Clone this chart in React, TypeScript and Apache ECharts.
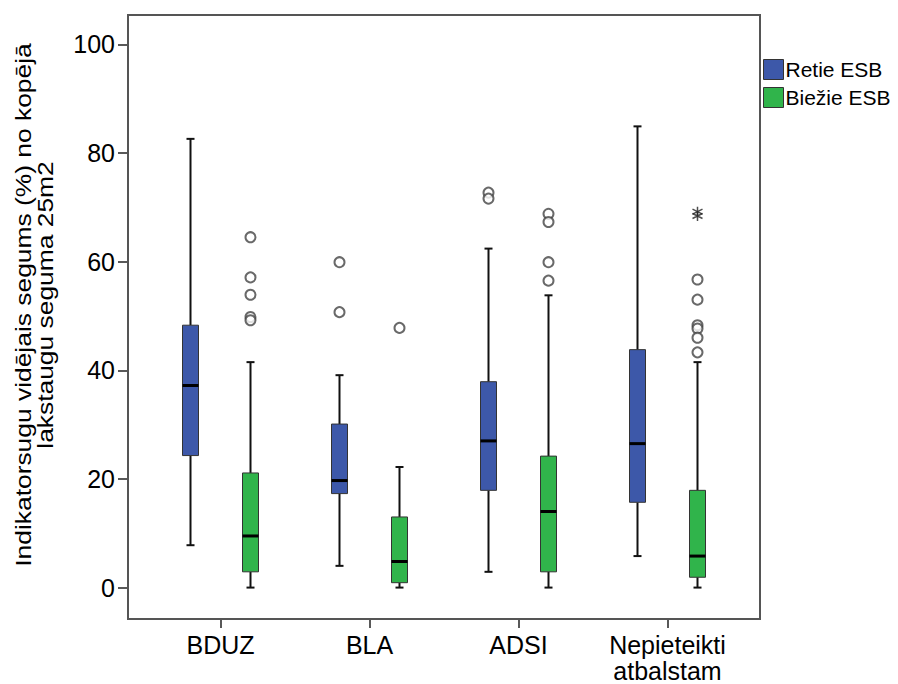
import React, { useEffect, useRef } from "react";
import * as echarts from "echarts";

// ---- data ----
const categories = ["BDUZ", "BLA", "ADSI", "Nepieteikti\natbalstam"];
const seriesNames = ["Retie ESB", "Biežie ESB"];
// [min, q1, median, q3, max]
const retieStats = [
  [7.8, 24.3, 37.2, 48.3, 82.6],
  [4.0, 17.3, 19.7, 30.1, 39.1],
  [2.9, 17.9, 27.0, 37.9, 62.4],
  [5.8, 15.7, 26.5, 43.8, 84.9],
];
const biezieStats = [
  [0, 2.9, 9.5, 21.1, 41.5],
  [0, 0.9, 4.8, 13.0, 22.2],
  [0, 2.9, 14.0, 24.2, 53.8],
  [0, 1.9, 5.8, 17.9, 41.5],
];
const retieOutliers = [
  [1, 59.9], [1, 50.7],
  [2, 72.7], [2, 71.6],
];
const biezieOutliers = [
  [0, 64.5], [0, 57.1], [0, 53.9], [0, 49.8], [0, 49.2],
  [1, 47.8],
  [2, 68.8], [2, 67.3], [2, 59.9], [2, 56.5],
  [3, 56.7], [3, 53.0], [3, 48.3], [3, 47.7], [3, 46.0], [3, 43.3],
];
const biezieExtremes = [
  [3, 69.2], [3, 68.4],
];
const yTicks = [0, 20, 40, 60, 80, 100];
const yMin = -5.6;
const yMax = 105.4;
const yTitle = "Indikatorsugu vidējais segums (%) no kopējā\nlakstaugu seguma 25m2";

// ---- layout / style ----
const W = 898;
const H = 684;
const FRAME_L = 128;
const FRAME_R = 760;
const FRAME_T = 15;
const FRAME_B = 619;
const PAD = 18;
const BOX_OFFSET = 30;
const BOX_W = 16;
const CAP_W = 8;
const BLUE = "#3d58a9";
const GREEN = "#30b44b";
const FONT = "'Liberation Sans', Arial, sans-serif";

function boxRender(offset: number, color: string) {
  return (params: any, api: any) => {
    const i = api.value(0);
    const x = api.coord([i, 0])[0] + offset;
    const y = (v: number) => api.coord([i, v])[1];
    const yMinP = y(api.value(1));
    const yQ1 = y(api.value(2));
    const yMed = y(api.value(3));
    const yQ3 = y(api.value(4));
    const yMaxP = y(api.value(5));
    const lineStyle = { stroke: "#111", lineWidth: 2 };
    return {
      type: "group",
      children: [
        { type: "line", shape: { x1: x, y1: yQ3, x2: x, y2: yMaxP }, style: lineStyle },
        { type: "line", shape: { x1: x, y1: yQ1, x2: x, y2: yMinP }, style: lineStyle },
        { type: "line", shape: { x1: x - CAP_W / 2, y1: yMaxP, x2: x + CAP_W / 2, y2: yMaxP }, style: lineStyle },
        { type: "line", shape: { x1: x - CAP_W / 2, y1: yMinP, x2: x + CAP_W / 2, y2: yMinP }, style: lineStyle },
        {
          type: "rect",
          shape: { x: x - BOX_W / 2, y: yQ3, width: BOX_W, height: yQ1 - yQ3 },
          style: { fill: color, stroke: "#333", lineWidth: 1 },
        },
        {
          type: "line",
          shape: { x1: x - BOX_W / 2, y1: yMed, x2: x + BOX_W / 2, y2: yMed },
          style: { stroke: "#000", lineWidth: 3 },
        },
      ],
    };
  };
}

const starPath = "path://M0,-5L0,5M-4.33,-2.5L4.33,2.5M-4.33,2.5L4.33,-2.5";

export default function App() {
  const ref = useRef<HTMLDivElement>(null);
  useEffect(() => {
    document.body.style.margin = "0";
    if (!ref.current) return;
    const chart = echarts.init(ref.current, null, { renderer: "svg" });
    const gridLeft = FRAME_L + PAD;
    const gridRight = W - (FRAME_R - PAD);
    const option: any = {
      animation: false,
      backgroundColor: "#fff",
      textStyle: { fontFamily: FONT },
      grid: { left: gridLeft, right: gridRight, top: FRAME_T, bottom: H - FRAME_B },
      legend: {
        orient: "vertical",
        left: FRAME_R - 2,
        top: 54,
        icon: "rect",
        itemWidth: 20,
        itemHeight: 20,
        itemGap: 7,
        textStyle: { fontSize: 21, color: "#000", fontFamily: FONT, padding: [0, 0, 0, -3] },
        data: [
          { name: seriesNames[0], itemStyle: { color: BLUE, borderColor: "#333", borderWidth: 1 } },
          { name: seriesNames[1], itemStyle: { color: GREEN, borderColor: "#333", borderWidth: 1 } },
        ],
      },
      xAxis: {
        type: "category",
        data: categories,
        boundaryGap: true,
        axisLine: { show: false, onZero: false },
        axisTick: { show: true, alignWithLabel: true, interval: 0, length: 10, lineStyle: { color: "#222", width: 1.5 } },
        axisLabel: { fontSize: 25, color: "#000", margin: 14, lineHeight: 26, interval: 0, fontFamily: FONT },
        splitLine: { show: false },
      },
      yAxis: {
        type: "value",
        min: yMin,
        max: yMax,
        offset: PAD,
        axisLine: { show: false },
        axisTick: { show: true, length: 10, customValues: yTicks, lineStyle: { color: "#222", width: 1.5 } },
        axisLabel: { fontSize: 25, color: "#000", margin: 13, customValues: yTicks, fontFamily: FONT },
        splitLine: { show: false },
      },
      graphic: [
        {
          type: "rect",
          shape: { x: FRAME_L, y: FRAME_T, width: FRAME_R - FRAME_L, height: FRAME_B - FRAME_T },
          style: { fill: "none", stroke: "#555", lineWidth: 2 },
          z: 100,
        },
        {
          type: "text",
          x: 34,
          y: 305,
          rotation: Math.PI / 2,
          scaleX: 1.2,
          style: {
            text: yTitle,
            fontSize: 22,
            lineHeight: 22,
            fontFamily: FONT,
            fill: "#000",
            align: "center",
            verticalAlign: "middle",
          },
        },
      ],
      series: [
        {
          name: seriesNames[0],
          type: "custom",
          itemStyle: { color: BLUE },
          encode: { x: 0, y: [1, 2, 3, 4, 5] },
          data: retieStats.map((s, i) => [i, ...s]),
          renderItem: boxRender(-BOX_OFFSET, BLUE),
        },
        {
          name: seriesNames[1],
          type: "custom",
          itemStyle: { color: GREEN },
          encode: { x: 0, y: [1, 2, 3, 4, 5] },
          data: biezieStats.map((s, i) => [i, ...s]),
          renderItem: boxRender(BOX_OFFSET, GREEN),
        },
        {
          type: "scatter",
          symbol: "emptyCircle",
          symbolSize: 10,
          symbolOffset: [-BOX_OFFSET, 0],
          itemStyle: { color: "#444", borderWidth: 1.5 },
          data: retieOutliers,
        },
        {
          type: "scatter",
          symbol: "emptyCircle",
          symbolSize: 10,
          symbolOffset: [BOX_OFFSET, 0],
          itemStyle: { color: "#444", borderWidth: 1.5 },
          data: biezieOutliers,
        },
        {
          type: "scatter",
          symbol: starPath,
          symbolSize: 10,
          symbolOffset: [BOX_OFFSET, 0],
          itemStyle: { color: "none", borderColor: "#222", borderWidth: 1.5 },
          data: biezieExtremes,
        },
      ],
    };
    chart.setOption(option);
    return () => chart.dispose();
  }, []);
  return <div ref={ref} style={{ width: W, height: H }} />;
}
